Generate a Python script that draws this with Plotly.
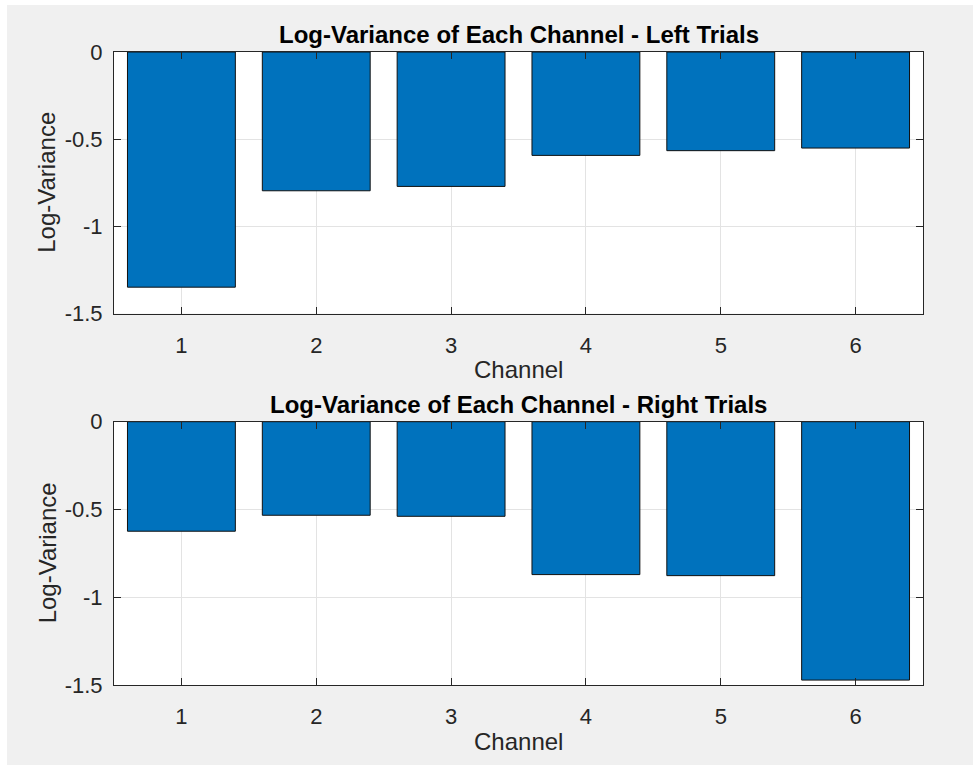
import plotly.graph_objects as go

# Channel numbers and mean log-variance per channel for each trial class
channels = [1, 2, 3, 4, 5, 6]
left_logvar = [-1.349, -0.796, -0.771, -0.593, -0.566, -0.551]
right_logvar = [-0.624, -0.533, -0.539, -0.871, -0.877, -1.472]

y_tick_vals = [0, -0.5, -1, -1.5]
y_tick_text = ["0", "-0.5", "-1", "-1.5"]

titles = ["Log-Variance of Each Channel - Left Trials",
          "Log-Variance of Each Channel - Right Trials"]

W, H = 973, 765
ML, MR, MT, MB = 114, 50, 52, 80
PW, PH = W - ML - MR, H - MT - MB

BAR_COLOR = "#0072BD"
AX_COLOR = "#262626"
GRID_COLOR = "#e3e3e3"
FONT = "Liberation Sans, Arial, Helvetica, sans-serif"


def px_x(px):
    return (px - ML) / PW


def px_y(py):
    return (H - MB - py) / PH


fig = go.Figure()
for i, vals in enumerate([left_logvar, right_logvar]):
    suffix = "" if i == 0 else str(i + 1)
    fig.add_trace(go.Bar(
        x=channels, y=vals, width=0.8,
        marker=dict(color=BAR_COLOR, line=dict(color="#111111", width=1)),
        xaxis="x" + suffix, yaxis="y" + suffix, showlegend=False,
        hoverinfo="x+y",
    ))

axis_common = dict(
    showline=True, linecolor=AX_COLOR, linewidth=1, mirror="allticks",
    ticks="inside", ticklen=7, tickwidth=1, tickcolor=AX_COLOR,
    showgrid=True, gridcolor=GRID_COLOR, gridwidth=1, zeroline=False,
    tickfont=dict(family=FONT, size=22, color=AX_COLOR),
)

domains = [[px_y(313.5), 1.0], [0.0, px_y(421.7)]]

layout = dict(
    width=W, height=H,
    margin=dict(l=ML, r=MR, t=MT, b=MB, pad=0),
    paper_bgcolor="#f0f0f0", plot_bgcolor="white",
    bargap=0.2, showlegend=False,
    font=dict(family=FONT, color=AX_COLOR),
)

annotations = []
for i in range(2):
    suffix = "" if i == 0 else str(i + 1)
    layout["xaxis" + suffix] = dict(
        axis_common, anchor="y" + suffix, domain=[0, 1],
        range=[0.5, 6.5], tickvals=channels,
        ticktext=[str(c) for c in channels], ticklabelstandoff=12,
    )
    layout["yaxis" + suffix] = dict(
        axis_common, anchor="x" + suffix, domain=domains[i],
        range=[-1.5, 0], tickvals=y_tick_vals, ticktext=y_tick_text,
        ticklabelstandoff=6,
    )
    xr = "x" + suffix + " domain"
    yr = "y" + suffix + " domain"
    annotations.append(dict(
        text="<b>" + titles[i] + "</b>", xref=xr, yref=yr, x=0.5, y=1,
        xanchor="center", yanchor="bottom", yshift=2, showarrow=False,
        font=dict(family=FONT, size=24, color="#000000"),
    ))
    annotations.append(dict(
        text="Channel", xref=xr, yref=yr, x=0.5, y=0,
        xanchor="center", yanchor="middle", yshift=-56, showarrow=False,
        font=dict(family=FONT, size=24, color=AX_COLOR),
    ))
    annotations.append(dict(
        text="Log-Variance", xref=xr, yref=yr, x=0, y=0.5, textangle=-90,
        xanchor="center", yanchor="middle", xshift=-67, showarrow=False,
        font=dict(family=FONT, size=24, color=AX_COLOR),
    ))
layout["annotations"] = annotations

# white page margin around the grey figure window
layout["shapes"] = [
    dict(type="rect", xref="paper", yref="paper", layer="below",
         x0=px_x(0), x1=px_x(W), y0=px_y(5), y1=px_y(0),
         fillcolor="white", line=dict(width=0)),
    dict(type="rect", xref="paper", yref="paper", layer="below",
         x0=px_x(0), x1=px_x(7), y0=px_y(H), y1=px_y(0),
         fillcolor="white", line=dict(width=0)),
]

fig.update_layout(**layout)
fig.write_html("out.html")
